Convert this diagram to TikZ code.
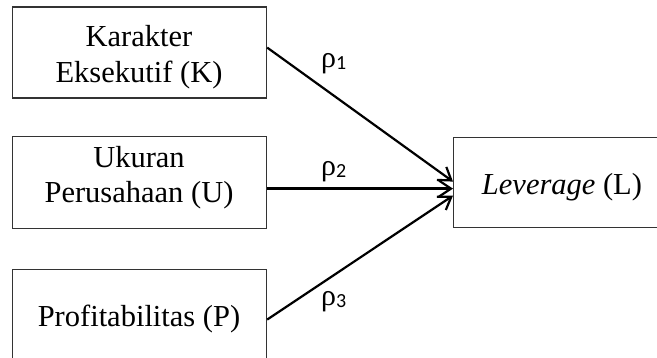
\documentclass[tikz,border=0pt]{standalone}
\usepackage{fontspec}
\setmainfont{Liberation Serif}
\newfontfamily\labfont{Carlito}
\usetikzlibrary{arrows.meta}
\begin{document}
\begin{tikzpicture}[x=1pt,y=-1pt,
  box/.style={draw=black!80, line width=1.2pt, minimum width=254pt, inner sep=0pt, anchor=north west},
  txt/.style={anchor=base, inner sep=0pt, font=\fontsize{30.5pt}{36pt}\selectfont},
  arr/.style={-{Straight Barb[length=12pt,width=16pt,line width=2.2pt]}, line width=2.2pt},
  rho/.style={anchor=base west, inner sep=0pt, font=\fontsize{30pt}{36pt}\selectfont}]
\useasboundingbox (0,0) rectangle (657,358);
\clip (0,0) rectangle (657,358);
% boxes
\node[box, minimum height=91pt] (K) at (12,6.5) {};
\node[box, minimum height=92pt] (U) at (12,136) {};
\node[box, minimum height=100pt] (P) at (12,269) {};
\node[box, minimum width=220pt, minimum height=90pt] (L) at (453,137) {};
% texts
\node[txt] (K1) at (139,47) {Karakter};
\node[txt] (K2) at (139,83) {Eksekutif (K)};
\node[txt] (U1) at (139,168) {Ukuran};
\node[txt] (U2) at (139,203) {Perusahaan (U)};
\node[txt] (P1) at (139,327) {Profitabilitas (P)};
\node[txt] (L1) at (562,195) {\textit{Leverage} (L)};
% arrows
\draw[arr] ([yshift=5pt]K.east) -- ([yshift=1pt]L.west);
\draw[arr] ([yshift=-6pt]U.east) -- ([yshift=-6pt]L.west);
\draw[arr] (P.east) -- ([yshift=-13pt]L.west);
% labels
\node[rho] (r1) at (321,68) {ρ\raisebox{-2pt}{\labfont\fontsize{20pt}{20pt}\selectfont 1}};
\node[rho] (r2) at (321,176) {ρ\raisebox{-2pt}{\labfont\fontsize{20pt}{20pt}\selectfont 2}};
\node[rho] (r3) at (321,306) {ρ\raisebox{-2pt}{\labfont\fontsize{20pt}{20pt}\selectfont 3}};
\end{tikzpicture}
\end{document}
